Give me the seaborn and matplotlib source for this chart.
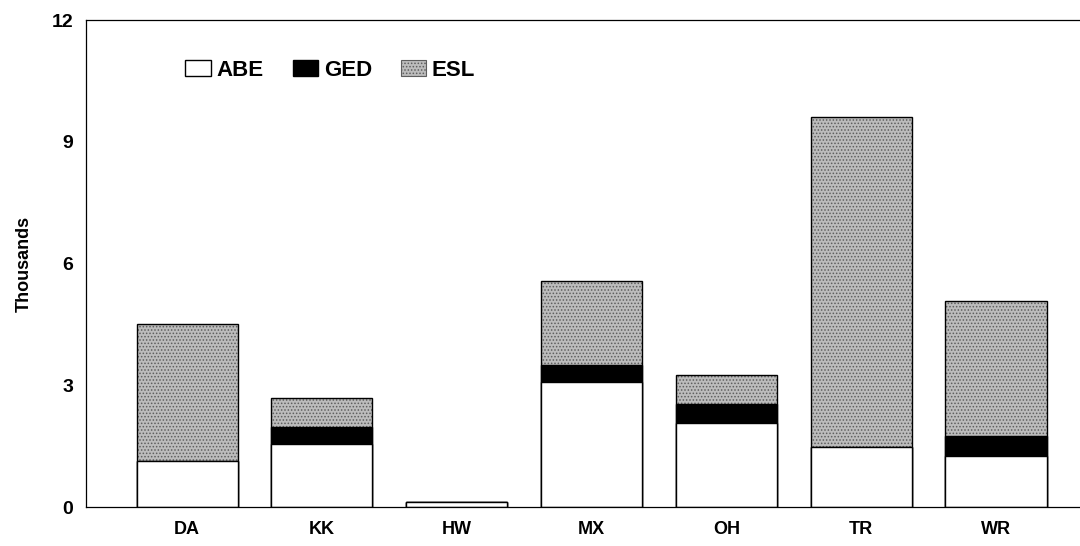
import pandas as pd
import matplotlib.pyplot as plt
import matplotlib.patches as mpatches
import seaborn as sns

# values in thousands
sites = ['DA', 'KK', 'HW', 'MX', 'OH', 'TR', 'WR']
abe = [1.13, 1.55, 0.12, 3.08, 2.07, 1.47, 1.25]
ged = [0.00, 0.42, 0.00, 0.41, 0.46, 0.00, 0.49]
esl = [3.37, 0.71, 0.00, 2.09, 0.72, 8.14, 3.33]

df = pd.DataFrame({'site': sites, 'ABE': abe, 'GED': ged, 'ESL': esl})
df['abe_top'] = df['ABE']
df['ged_top'] = df['ABE'] + df['GED']
df['esl_top'] = df['ged_top'] + df['ESL']

sns.set_style("white")
plt.rcParams['font.family'] = ['Liberation Sans', 'DejaVu Sans']
plt.rcParams['hatch.linewidth'] = 0.7
plt.rcParams['text.color'] = 'black'
plt.rcParams['xtick.color'] = 'black'
plt.rcParams['ytick.color'] = 'black'
plt.rcParams['axes.labelcolor'] = 'black'

esl_color = '#bcbcbc'

fig = plt.figure(figsize=(10.8, 5.46), dpi=100)
ax = fig.add_axes([0.0796, 0.0714, 0.92, 0.8916])

# stack by drawing cumulative totals back to front
sns.barplot(data=df, x='site', y='esl_top', color=esl_color, width=0.75,
            edgecolor='#5e5e5e', linewidth=0, hatch='.....', saturation=1, ax=ax)
sns.barplot(data=df, x='site', y='esl_top', fill=False, width=0.75,
            edgecolor='black', linewidth=1.0, ax=ax)
sns.barplot(data=df, x='site', y='ged_top', color='black', width=0.75,
            edgecolor='black', linewidth=1.0, saturation=1, ax=ax)
sns.barplot(data=df, x='site', y='abe_top', color='white', width=0.75,
            edgecolor='black', linewidth=1.0, saturation=1, ax=ax)

ax.set_xlim(-0.75, 6.62)
ax.set_ylim(0, 12)
ax.set_yticks([0, 3, 6, 9, 12])
ax.tick_params(axis='y', direction='in', length=6, width=0.8, labelsize=14, pad=9)
ax.tick_params(axis='x', length=0, labelsize=13, pad=10)
for lbl in ax.get_xticklabels() + ax.get_yticklabels():
    lbl.set_fontweight('bold')
ax.set_xlabel('')
ax.set_ylabel('Thousands', fontsize=13, fontweight='bold', labelpad=14)

for side in ['left', 'bottom', 'top']:
    ax.spines[side].set_color('black')
    ax.spines[side].set_linewidth(0.9)
ax.spines['right'].set_visible(False)

handles = [
    mpatches.Patch(facecolor='white', edgecolor='black', linewidth=1.0, label='ABE'),
    mpatches.Patch(facecolor='black', edgecolor='black', linewidth=1.0, label='GED'),
    mpatches.Patch(facecolor=esl_color, edgecolor='#5e5e5e', hatch='.....', linewidth=0.8, label='ESL'),
]
leg = ax.legend(handles=handles, loc='center left', bbox_to_anchor=(0.080, 0.897), ncol=3,
                frameon=False, fontsize=16, handlelength=1.15, handleheight=0.75,
                handletextpad=0.25, columnspacing=1.3)
for t in leg.get_texts():
    t.set_fontweight('bold')

plt.savefig('out.png', dpi=100)
